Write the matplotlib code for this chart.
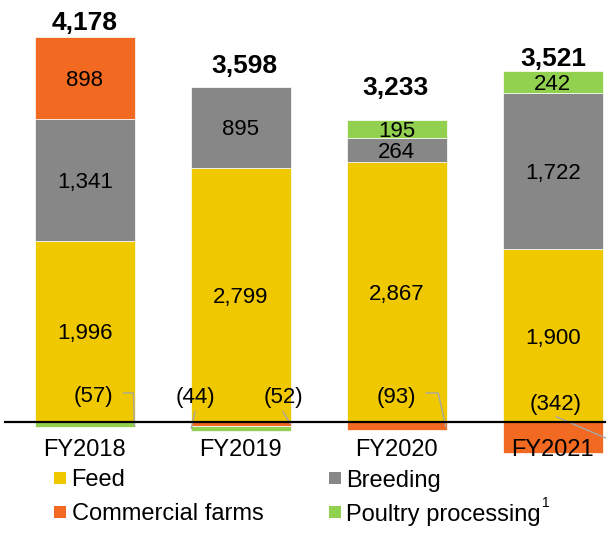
import numpy as np
import matplotlib
matplotlib.use("Agg")
import matplotlib.pyplot as plt
from matplotlib.patches import Rectangle

plt.rcParams['font.family'] = ['Liberation Sans', 'DejaVu Sans']

# data
years = ['FY2018', 'FY2019', 'FY2020', 'FY2021']
feed = [1996, 2799, 2867, 1900]
breeding = [1341, 895, 264, 1722]
commercial = [898, -44, -93, -342]
poultry = [-57, -52, 195, 242]
totals = [4178, 3598, 3233, 3521]

series = [
    ('Feed', feed, '#F0C800'),
    ('Breeding', breeding, '#878787'),
    ('Commercial farms', commercial, '#F26922'),
    ('Poultry processing', poultry, '#92D050'),
]

# layout helpers (pixel space of the 606x541 picture)
W, H = 606, 541
zero_px = 422
px_per_unit = 0.0908
upp = 1 / px_per_unit
bar0, step = 84.7, 156.0

def dx(px):
    return (px - bar0) / step

def dy(py):
    return (zero_px - py) * upp

fig = plt.figure(figsize=(W / 100, H / 100), dpi=100)
ax = fig.add_axes([0, 0, 1, 1])
ax.axis('off')
ax.set_xlim(dx(0), dx(W))
ax.set_ylim(dy(H), dy(0))

x = np.arange(len(years))
width = 100 / step

pos_bottom = np.zeros(len(years))
neg_bottom = np.zeros(len(years))
neg_items = []
for name, vals, color in series:
    v = np.array(vals, dtype=float)
    bottom = np.where(v >= 0, pos_bottom, neg_bottom)
    ax.bar(x, v, width, bottom=bottom, color=color, edgecolor='white', linewidth=0.5, zorder=2)
    for i, val in enumerate(v):
        if val > 0:
            ax.text(x[i], bottom[i] + val / 2, f"{int(val):,}", ha='center', va='center_baseline',
                    fontsize=16, zorder=4)
        else:
            neg_items.append((i, name, int(val)))
    pos_bottom += np.where(v >= 0, v, 0)
    neg_bottom += np.where(v < 0, v, 0)

# total labels above bars (offset in px above bar top, x shift in px)
total_off = [(0, 16.5), (4, 23), (-1, 34), (1, 15)]
for i, t in enumerate(totals):
    top_px = zero_px - pos_bottom[i] * px_per_unit
    ox, oy = total_off[i]
    ax.text(x[i] + ox / step, dy(top_px - oy), f"{t:,}", ha='center', va='center_baseline',
            fontsize=19, fontweight='bold', zorder=4)

# negative value labels with leader lines (px offsets from bar centre)
neg_layout = {
    (0, 'Poultry processing'): (8.3, 394, [(39, 393), (48.7, 393), (49.8, 426)]),
    (1, 'Commercial farms'): (-45.7, 395, [(-45.7, 411.7), (-49.4, 428.3)]),
    (1, 'Poultry processing'): (42.3, 395, [(42.3, 411.7), (49.3, 423.3)]),
    (2, 'Commercial farms'): (0, 395, [(29.7, 393), (41.4, 393), (49.2, 426.7)]),
    (3, 'Commercial farms'): (3, 401.7, [(3.6, 416.7), (60, 441)]),
}
for i, name, val in neg_items:
    lx, ly, pts = neg_layout[(i, name)]
    cx = bar0 + step * i
    ax.text(dx(cx + lx), dy(ly), f"({abs(val):,})", ha='center', va='center_baseline',
            fontsize=16, zorder=4)
    ax.plot([dx(cx + p[0]) for p in pts], [dy(p[1]) for p in pts], color='#A6A6A6',
            linewidth=1.0, zorder=3, clip_on=False)

# zero line
ax.plot([dx(5), dx(W)], [0, 0], color='black', linewidth=1.6, zorder=5)

# category labels
for i, yr in enumerate(years):
    ax.text(x[i], dy(448), yr, ha='center', va='center_baseline', fontsize=17, zorder=4)

# legend
leg_pos = [(54, 478), (329, 478), (54, 512), (329, 512)]
renderer = fig.canvas.get_renderer()
for (name, vals, color), (lx, ly) in zip(series, leg_pos):
    ax.add_patch(Rectangle((lx / W, 1 - (ly + 6) / H), 12 / W, 12 / H, transform=ax.transAxes,
                           facecolor=color, edgecolor='none', clip_on=False))
    t = ax.text((lx + 17.5) / W, 1 - ly / H, name, transform=ax.transAxes, ha='left',
                va='center_baseline', fontsize=17)
    if name == 'Poultry processing':
        bb = t.get_window_extent(renderer=renderer)
        ax.text((bb.x1 + 1) / W, 1 - (ly - 9) / H, '1', transform=ax.transAxes, ha='left',
                va='center', fontsize=10)

fig.savefig('out.png', dpi=100)
